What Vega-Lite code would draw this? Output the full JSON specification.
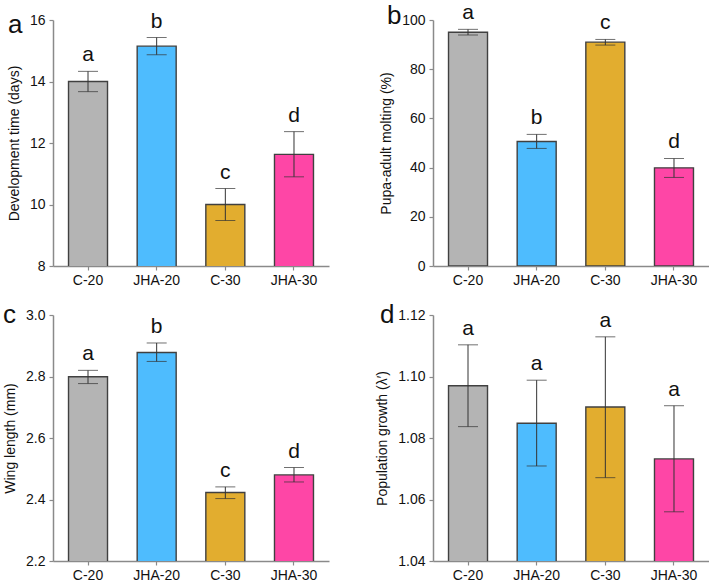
{
  "$schema": "https://vega.github.io/schema/vega-lite/v6.json",
  "padding": {"left": 3, "top": 2, "right": 0, "bottom": 0},
  "background": "white",
  "bounds": "flush",
  "columns": 2,
  "spacing": {"row": 49, "column": 104},
  "config": {
    "view": {"stroke": null},
    "font": "Liberation Sans",
    "axis": {
      "grid": false,
      "domainColor": "#8a8a8a",
      "domainWidth": 1.5,
      "tickColor": "#8a8a8a",
      "tickWidth": 1.2,
      "tickSize": 4,
      "labelColor": "#111111",
      "labelFontSize": 14,
      "titleFontSize": 14,
      "titleFontWeight": "normal",
      "titleColor": "#111111"
    },
    "axisX": {"labelAngle": 0, "labelFontSize": 14, "labelPadding": 3, "title": null},
    "axisY": {"labelPadding": 4, "titlePadding": 8},
    "title": {"fontSize": 26, "fontWeight": "normal", "anchor": "start", "frame": "group", "color": "#111111", "baseline": "alphabetic"}
  },
  "datasets": {
    "a": [
      {"group": "C-20", "mean": 14.0, "lo": 13.67, "hi": 14.33, "letter": "a"},
      {"group": "JHA-20", "mean": 15.15, "lo": 14.87, "hi": 15.43, "letter": "b"},
      {"group": "C-30", "mean": 10.0, "lo": 9.48, "hi": 10.52, "letter": "c"},
      {"group": "JHA-30", "mean": 11.63, "lo": 10.9, "hi": 12.37, "letter": "d"}
    ],
    "b": [
      {"group": "C-20", "mean": 95.0, "lo": 93.9, "hi": 96.2, "letter": "a"},
      {"group": "JHA-20", "mean": 50.6, "lo": 47.8, "hi": 53.5, "letter": "b"},
      {"group": "C-30", "mean": 91.0, "lo": 89.8, "hi": 92.1, "letter": "c"},
      {"group": "JHA-30", "mean": 39.9, "lo": 36.0, "hi": 43.7, "letter": "d"}
    ],
    "c": [
      {"group": "C-20", "mean": 2.799, "lo": 2.777, "hi": 2.82, "letter": "a"},
      {"group": "JHA-20", "mean": 2.878, "lo": 2.849, "hi": 2.909, "letter": "b"},
      {"group": "C-30", "mean": 2.423, "lo": 2.403, "hi": 2.441, "letter": "c"},
      {"group": "JHA-30", "mean": 2.48, "lo": 2.457, "hi": 2.504, "letter": "d"}
    ],
    "d": [
      {"group": "C-20", "mean": 1.097, "lo": 1.0837, "hi": 1.1103, "letter": "a"},
      {"group": "JHA-20", "mean": 1.0848, "lo": 1.0709, "hi": 1.0988, "letter": "a"},
      {"group": "C-30", "mean": 1.0901, "lo": 1.0671, "hi": 1.1129, "letter": "a"},
      {"group": "JHA-30", "mean": 1.0732, "lo": 1.056, "hi": 1.0905, "letter": "a"}
    ]
  },
  "concat": [
    {
      "width": 276, "height": 246,
      "title": {"text": "a", "dx": -45, "offset": -27},
      "data": {"name": "a"},
      "encoding": {
        "x": {"field": "group", "type": "nominal", "sort": ["C-20", "JHA-20", "C-30", "JHA-30"], "scale": {"paddingInner": 0.432, "paddingOuter": 0.226}}
      },
      "layer": [
        {"mark": {"type": "bar", "stroke": "#404040", "strokeWidth": 1.4, "clip": true},
         "encoding": {
           "y": {"field": "mean", "type": "quantitative", "scale": {"domain": [8, 16], "zero": false, "nice": false}, "axis": {"values": [8, 10, 12, 14, 16], "title": "Development time (days)"}},
           "color": {"field": "group", "type": "nominal", "legend": null, "scale": {"domain": ["C-20", "JHA-20", "C-30", "JHA-30"], "range": ["#B4B4B4", "#4EBCFE", "#E2AD2F", "#FE46A6"]}}
         }},
        {"mark": {"type": "rule", "color": "#333333", "strokeWidth": 1}, "encoding": {"y": {"field": "lo", "type": "quantitative"}, "y2": {"field": "hi"}}},
        {"mark": {"type": "tick", "color": "#333333", "size": 20, "thickness": 1}, "encoding": {"y": {"field": "lo", "type": "quantitative"}}},
        {"mark": {"type": "tick", "color": "#333333", "size": 20, "thickness": 1}, "encoding": {"y": {"field": "hi", "type": "quantitative"}}},
        {"mark": {"type": "text", "fontSize": 21, "baseline": "alphabetic", "dy": -10, "color": "#111111"}, "encoding": {"y": {"field": "hi", "type": "quantitative"}, "text": {"field": "letter"}}}
      ]
    },
    {
      "width": 276, "height": 246,
      "title": {"text": "b", "dx": -46, "offset": -27},
      "data": {"name": "b"},
      "encoding": {
        "x": {"field": "group", "type": "nominal", "sort": ["C-20", "JHA-20", "C-30", "JHA-30"], "scale": {"paddingInner": 0.432, "paddingOuter": 0.226}}
      },
      "layer": [
        {"mark": {"type": "bar", "stroke": "#404040", "strokeWidth": 1.4, "clip": true},
         "encoding": {
           "y": {"field": "mean", "type": "quantitative", "scale": {"domain": [0, 100], "nice": false}, "axis": {"values": [0, 20, 40, 60, 80, 100], "title": "Pupa-adult molting (%)"}},
           "color": {"field": "group", "type": "nominal", "legend": null, "scale": {"domain": ["C-20", "JHA-20", "C-30", "JHA-30"], "range": ["#B4B4B4", "#4EBCFE", "#E2AD2F", "#FE46A6"]}}
         }},
        {"mark": {"type": "rule", "color": "#333333", "strokeWidth": 1}, "encoding": {"y": {"field": "lo", "type": "quantitative"}, "y2": {"field": "hi"}}},
        {"mark": {"type": "tick", "color": "#333333", "size": 20, "thickness": 1}, "encoding": {"y": {"field": "lo", "type": "quantitative"}}},
        {"mark": {"type": "tick", "color": "#333333", "size": 20, "thickness": 1}, "encoding": {"y": {"field": "hi", "type": "quantitative"}}},
        {"mark": {"type": "text", "fontSize": 21, "baseline": "alphabetic", "dy": -10, "color": "#111111"}, "encoding": {"y": {"field": "hi", "type": "quantitative"}, "text": {"field": "letter"}}}
      ]
    },
    {
      "width": 276, "height": 246,
      "title": {"text": "c", "dx": -50, "offset": -20},
      "data": {"name": "c"},
      "encoding": {
        "x": {"field": "group", "type": "nominal", "sort": ["C-20", "JHA-20", "C-30", "JHA-30"], "scale": {"paddingInner": 0.432, "paddingOuter": 0.226}}
      },
      "layer": [
        {"mark": {"type": "bar", "stroke": "#404040", "strokeWidth": 1.4, "clip": true},
         "encoding": {
           "y": {"field": "mean", "type": "quantitative", "scale": {"domain": [2.2, 3.0], "zero": false, "nice": false}, "axis": {"values": [2.2, 2.4, 2.6, 2.8, 3.0], "format": ".1f", "title": "Wing length (mm)"}},
           "color": {"field": "group", "type": "nominal", "legend": null, "scale": {"domain": ["C-20", "JHA-20", "C-30", "JHA-30"], "range": ["#B4B4B4", "#4EBCFE", "#E2AD2F", "#FE46A6"]}}
         }},
        {"mark": {"type": "rule", "color": "#333333", "strokeWidth": 1}, "encoding": {"y": {"field": "lo", "type": "quantitative"}, "y2": {"field": "hi"}}},
        {"mark": {"type": "tick", "color": "#333333", "size": 20, "thickness": 1}, "encoding": {"y": {"field": "lo", "type": "quantitative"}}},
        {"mark": {"type": "tick", "color": "#333333", "size": 20, "thickness": 1}, "encoding": {"y": {"field": "hi", "type": "quantitative"}}},
        {"mark": {"type": "text", "fontSize": 21, "baseline": "alphabetic", "dy": -10, "color": "#111111"}, "encoding": {"y": {"field": "hi", "type": "quantitative"}, "text": {"field": "letter"}}}
      ]
    },
    {
      "width": 276, "height": 246,
      "title": {"text": "d", "dx": -53, "offset": -20},
      "data": {"name": "d"},
      "encoding": {
        "x": {"field": "group", "type": "nominal", "sort": ["C-20", "JHA-20", "C-30", "JHA-30"], "scale": {"paddingInner": 0.432, "paddingOuter": 0.226}}
      },
      "layer": [
        {"mark": {"type": "bar", "stroke": "#404040", "strokeWidth": 1.4, "clip": true},
         "encoding": {
           "y": {"field": "mean", "type": "quantitative", "scale": {"domain": [1.04, 1.12], "zero": false, "nice": false}, "axis": {"values": [1.04, 1.06, 1.08, 1.10, 1.12], "format": ".2f", "title": "Population growth (λ′)"}},
           "color": {"field": "group", "type": "nominal", "legend": null, "scale": {"domain": ["C-20", "JHA-20", "C-30", "JHA-30"], "range": ["#B4B4B4", "#4EBCFE", "#E2AD2F", "#FE46A6"]}}
         }},
        {"mark": {"type": "rule", "color": "#333333", "strokeWidth": 1}, "encoding": {"y": {"field": "lo", "type": "quantitative"}, "y2": {"field": "hi"}}},
        {"mark": {"type": "tick", "color": "#333333", "size": 20, "thickness": 1}, "encoding": {"y": {"field": "lo", "type": "quantitative"}}},
        {"mark": {"type": "tick", "color": "#333333", "size": 20, "thickness": 1}, "encoding": {"y": {"field": "hi", "type": "quantitative"}}},
        {"mark": {"type": "text", "fontSize": 21, "baseline": "alphabetic", "dy": -10, "color": "#111111"}, "encoding": {"y": {"field": "hi", "type": "quantitative"}, "text": {"field": "letter"}}}
      ]
    }
  ]
}
